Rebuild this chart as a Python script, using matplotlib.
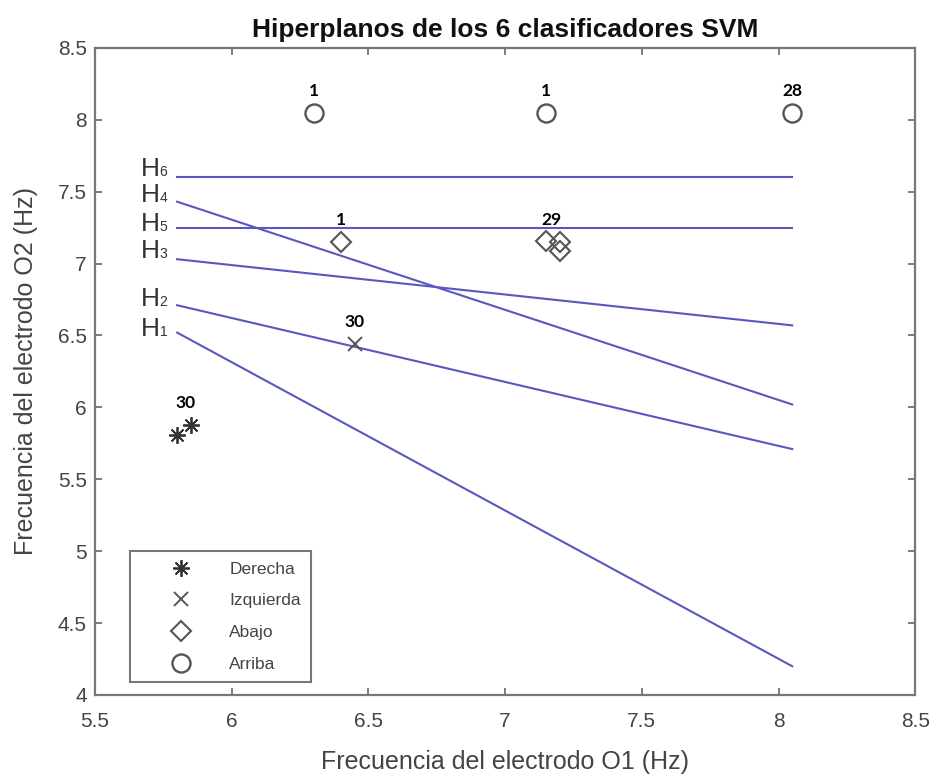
import matplotlib
matplotlib.use("Agg")
import matplotlib.pyplot as plt
import numpy as np

plt.rcParams['font.family'] = ['Liberation Sans', 'DejaVu Sans']

# ---- data ----
derecha_x = [5.80, 5.85]
derecha_y = [5.81, 5.88]
izquierda_x = [6.45]
izquierda_y = [6.44]
abajo_x = [6.40, 7.15, 7.20, 7.20]
abajo_y = [7.15, 7.16, 7.15, 7.09]
arriba_x = [6.30, 7.15, 8.05]
arriba_y = [8.05, 8.05, 8.05]

line_names = ['1', '2', '3', '4', '5', '6']
line_x = [5.80, 8.05]
line_y0 = [6.52, 6.71, 7.03, 7.43, 7.25, 7.60]
line_y1 = [4.20, 5.71, 6.57, 6.02, 7.25, 7.60]
label_dy = [0.0, 0.02, 0.03, 0.02, 0.0, 0.03]

count_labels = ['1', '1', '28', '1', '29', '30', '30']
count_x = [6.30, 7.15, 8.05, 6.40, 7.17, 6.45, 5.83]
count_y = [8.05, 8.05, 8.05, 7.15, 7.15, 6.44, 5.88]

xticks = [5.5, 6, 6.5, 7, 7.5, 8, 8.5]
yticks = [4, 4.5, 5, 5.5, 6, 6.5, 7, 7.5, 8, 8.5]

# ---- figure ----
fig = plt.figure(figsize=(9.32, 7.76), dpi=100)
ax = fig.add_axes([0.102, 0.1044, 0.880, 0.834])

line_color = '#5858c0'
mk_color = '#555555'

for name, y0, y1, dy in zip(line_names, line_y0, line_y1, label_dy):
    ax.plot(line_x, [y0, y1], color=line_color, lw=1.5, zorder=2)
    # subscript digit, then the H to its left
    ax.annotate(name, (line_x[0], y0 + dy), xytext=(-7, -2.5),
                textcoords='offset points', ha='right', va='baseline',
                fontsize=10, color='#333333')
    ax.annotate('H', (line_x[0], y0 + dy), xytext=(-12.3, -2.5),
                textcoords='offset points', ha='right', va='baseline',
                fontsize=19, color='#333333')

asterisk = (8, 2, 0)
ax.plot(derecha_x, derecha_y, linestyle='none', marker=asterisk, ms=12,
        mec='#333333', mew=1.3, label='Derecha', zorder=3)
ax.plot(izquierda_x, izquierda_y, linestyle='none', marker='x', ms=10,
        mec=mk_color, mew=1.4, label='Izquierda', zorder=3)
ax.plot(abajo_x, abajo_y, linestyle='none', marker='D', ms=10.5,
        mfc='none', mec=mk_color, mew=1.5, label='Abajo', zorder=3)
ax.plot(arriba_x, arriba_y, linestyle='none', marker='o', ms=13,
        mfc='none', mec=mk_color, mew=1.7, label='Arriba', zorder=3)

for t, x, y in zip(count_labels, count_x, count_y):
    ax.annotate(t, (x, y), xytext=(0, 10), textcoords='offset points',
                ha='center', va='bottom', fontsize=12.5, fontweight='bold',
                family=['Lato', 'DejaVu Sans'], color='black')

ax.set_xlim(5.5, 8.5)
ax.set_ylim(4, 8.5)
ax.set_xticks(xticks)
ax.set_xticklabels([('%g' % v) for v in xticks])
ax.set_yticks(yticks)
ax.set_yticklabels([('%g' % v) for v in yticks])
ax.tick_params(direction='in', top=True, right=True, length=5, width=1.2,
               colors='#666666', labelcolor='#444444', labelsize=15, pad=6)
ax.tick_params(axis='x', pad=12)
for sp in ax.spines.values():
    sp.set_color('#777777')
    sp.set_linewidth(1.6)

ax.set_title('Hiperplanos de los 6 clasificadores SVM', fontsize=19,
             fontweight='bold', color='#111111', pad=8)
ax.set_xlabel('Frecuencia del electrodo O1 (Hz)', fontsize=18, color='#444444', labelpad=14)
ax.set_ylabel('Frecuencia del electrodo O2 (Hz)', fontsize=18, color='#444444', labelpad=14)

leg = ax.legend(loc='lower left', bbox_to_anchor=(0.043, 0.02), borderaxespad=0,
                fancybox=False, edgecolor='#777777', fontsize=12.5,
                handletextpad=0.5, borderpad=0.6, labelspacing=0.95,
                handlelength=4.6, framealpha=1)
leg.get_frame().set_linewidth(1.5)
for txt in leg.get_texts():
    txt.set_color('#444444')

fig.savefig('out.png', dpi=100)
